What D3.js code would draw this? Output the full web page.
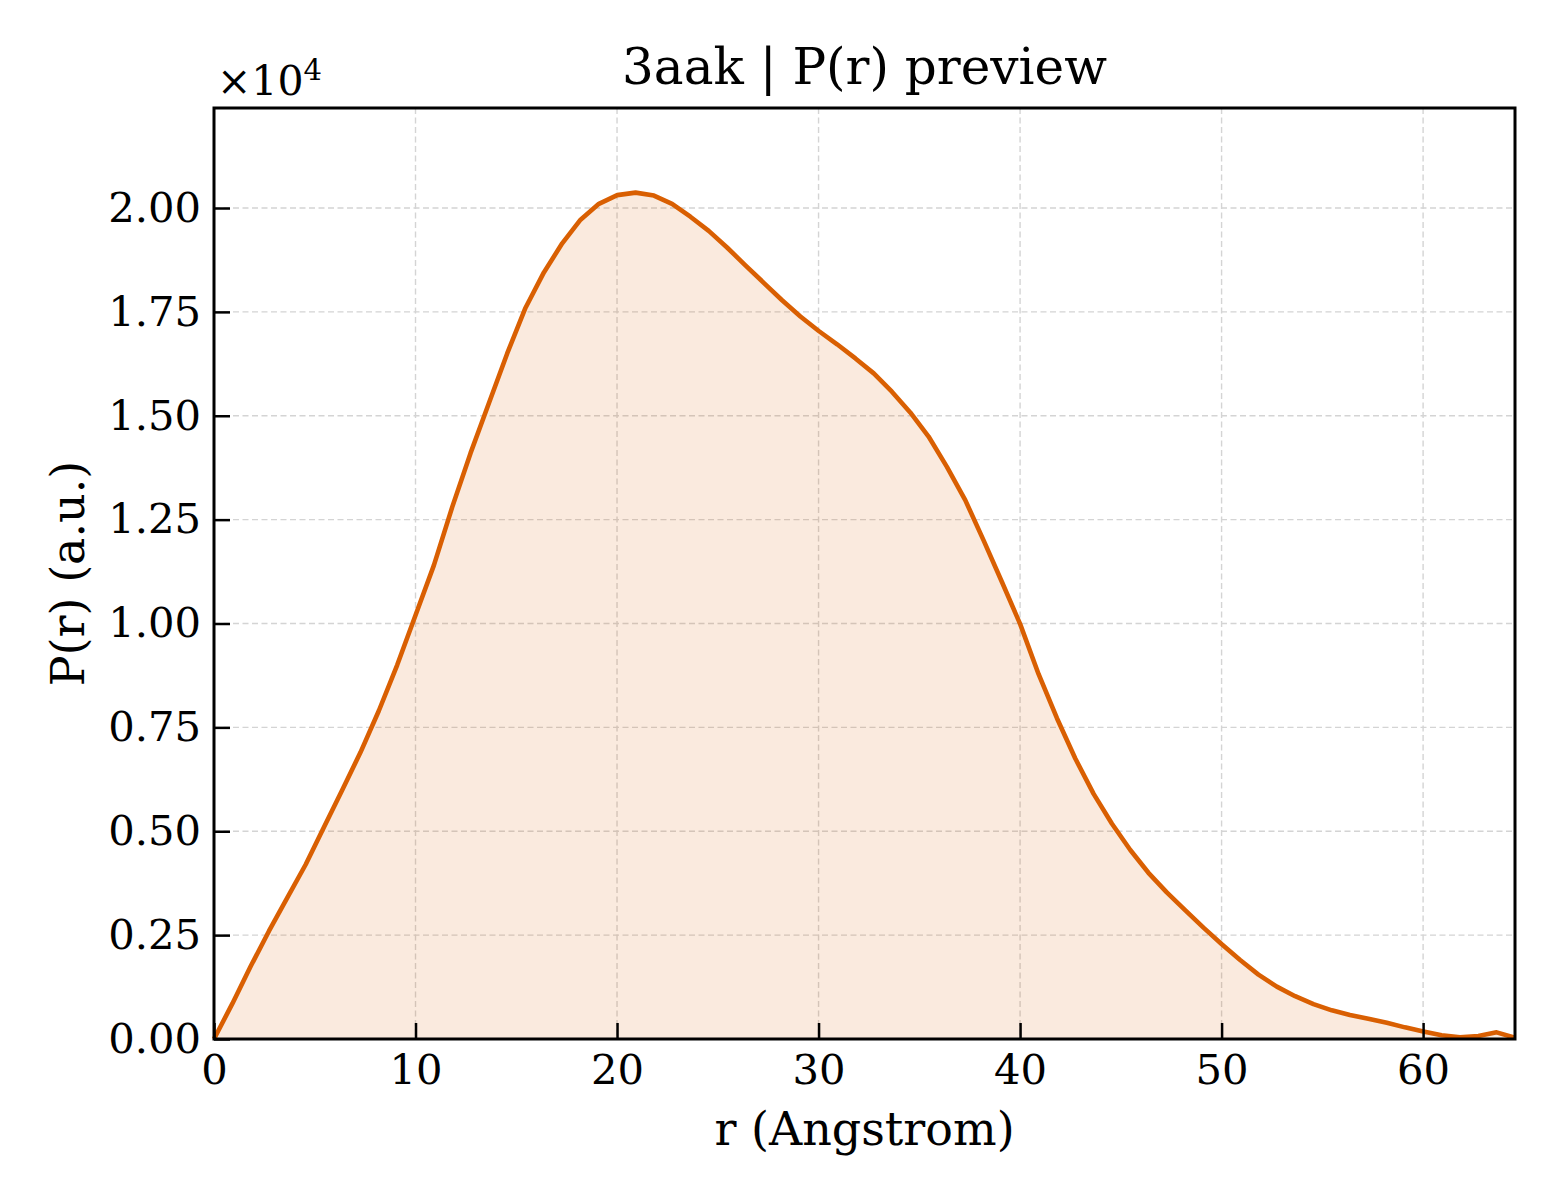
<!DOCTYPE html>
<html>
<head>
  <meta charset="UTF-8">
  <title>3aak | P(r) preview</title>
  <script src="https://d3js.org/d3.v7.min.js"></script>
  <style>
    body { margin: 0; background: #fff; }
    svg { background: #fff; font-family: "DejaVu Serif", serif; }
    .tick text { font-size: 41.7px; fill: #000; font-family: "DejaVu Serif", serif; }
    .tick line { stroke: #000; stroke-width: 2.5px; }
    .grid line { stroke: #d4d4d4; stroke-width: 1.4px; stroke-dasharray: 6,3.5; }
  </style>
</head>
<body>
  <svg width="1560" height="1200"></svg>

  <script>
    // r values (Angstrom) and P(r) in units of 1e4
    const rVals = [
      0.00, 0.91, 1.82, 2.73, 3.64, 4.55, 5.46, 6.37, 7.27, 8.18,
      9.09, 10.00, 10.91, 11.82, 12.73, 13.64, 14.55, 15.46, 16.37, 17.28,
      18.19, 19.10, 20.01, 20.92, 21.83, 22.73, 23.64, 24.55, 25.46, 26.37,
      27.28, 28.19, 29.10, 30.01, 30.92, 31.83, 32.74, 33.64, 34.55, 35.46,
      36.37, 37.28, 38.19, 39.10, 40.01, 40.92, 41.83, 42.74, 43.65, 44.56,
      45.47, 46.37, 47.28, 48.19, 49.10, 50.01, 50.92, 51.83, 52.74, 53.65,
      54.56, 55.47, 56.37, 57.28, 58.20, 59.10, 60.01, 60.92, 61.83, 62.74,
      63.65, 64.56
    ];
    const pVals = [
      0.000, 0.085, 0.175, 0.260, 0.340, 0.420, 0.510, 0.600, 0.690, 0.790,
      0.900, 1.020, 1.140, 1.280, 1.410, 1.530, 1.650, 1.760, 1.845, 1.915,
      1.972, 2.010, 2.031, 2.037, 2.030, 2.010, 1.979, 1.945, 1.905, 1.862,
      1.820, 1.778, 1.739, 1.704, 1.672, 1.638, 1.602, 1.558, 1.508, 1.450,
      1.377, 1.297, 1.200, 1.100, 0.998, 0.878, 0.772, 0.675, 0.590, 0.518,
      0.455, 0.400, 0.353, 0.310, 0.268, 0.228, 0.190, 0.155, 0.126, 0.103,
      0.084, 0.069, 0.058, 0.049, 0.039, 0.028, 0.018, 0.009, 0.004, 0.007,
      0.016, 0.003
    ];
    const xTicks = [0, 10, 20, 30, 40, 50, 60];
    const yTicks = [0, 0.25, 0.5, 0.75, 1.0, 1.25, 1.5, 1.75, 2.0];

    const data = rVals.map((r, i) => ({ r: r, p: pVals[i] }));

    const svg = d3.select("svg");
    const m = { left: 214, right: 1515, top: 108, bottom: 1039 };

    const x = d3.scaleLinear()
      .domain([0, d3.max(rVals)])
      .range([m.left, m.right]);

    const y = d3.scaleLinear()
      .domain([0, d3.max(pVals) * 1.1])
      .range([m.bottom, m.top]);

    // grid
    svg.append("g").attr("class", "grid")
      .selectAll("line")
      .data(xTicks.filter(d => d > 0))
      .enter().append("line")
      .attr("x1", d => x(d)).attr("x2", d => x(d))
      .attr("y1", m.top).attr("y2", m.bottom);

    svg.append("g").attr("class", "grid")
      .selectAll("line")
      .data(yTicks.filter(d => d > 0))
      .enter().append("line")
      .attr("x1", m.left).attr("x2", m.right)
      .attr("y1", d => y(d)).attr("y2", d => y(d));

    // filled area + line
    svg.append("path")
      .datum(data)
      .attr("fill", "#d95f02")
      .attr("fill-opacity", 0.13)
      .attr("d", d3.area().x(d => x(d.r)).y0(y(0)).y1(d => y(d.p)));

    svg.append("path")
      .datum(data)
      .attr("fill", "none")
      .attr("stroke", "#d95f02")
      .attr("stroke-width", 4.6)
      .attr("stroke-linejoin", "round")
      .attr("d", d3.line().x(d => x(d.r)).y(d => y(d.p)));

    // axes (ticks pointing inward)
    const xAxis = svg.append("g")
      .attr("transform", `translate(0,${m.bottom})`)
      .call(d3.axisBottom(x).tickValues(xTicks).tickFormat(d3.format("d"))
        .tickSizeInner(-16).tickSizeOuter(0).tickPadding(15));
    xAxis.select(".domain").remove();

    const yAxis = svg.append("g")
      .attr("transform", `translate(${m.left},0)`)
      .call(d3.axisLeft(y).tickValues(yTicks).tickFormat(d3.format(".2f"))
        .tickSizeInner(-16).tickSizeOuter(0).tickPadding(13));
    yAxis.select(".domain").remove();

    // frame
    svg.append("rect")
      .attr("x", m.left).attr("y", m.top)
      .attr("width", m.right - m.left).attr("height", m.bottom - m.top)
      .attr("fill", "none").attr("stroke", "#000").attr("stroke-width", 3);

    // offset text
    const off = svg.append("text")
      .attr("x", m.left + 3).attr("y", 95)
      .attr("font-size", 41).attr("fill", "#000");
    off.append("tspan").text("×10");
    off.append("tspan").attr("font-size", 29).attr("dy", -15).text("4");

    // title and labels
    svg.append("text")
      .attr("x", (m.left + m.right) / 2).attr("y", 84)
      .attr("text-anchor", "middle").attr("font-size", 50)
      .text("3aak | P(r) preview");

    svg.append("text")
      .attr("x", (m.left + m.right) / 2).attr("y", 1145)
      .attr("text-anchor", "middle").attr("font-size", 46)
      .text("r (Angstrom)");

    svg.append("text")
      .attr("transform", `translate(84,${(m.top + m.bottom) / 2}) rotate(-90)`)
      .attr("text-anchor", "middle").attr("font-size", 46)
      .text("P(r) (a.u.)");
  </script>
</body>
</html>
